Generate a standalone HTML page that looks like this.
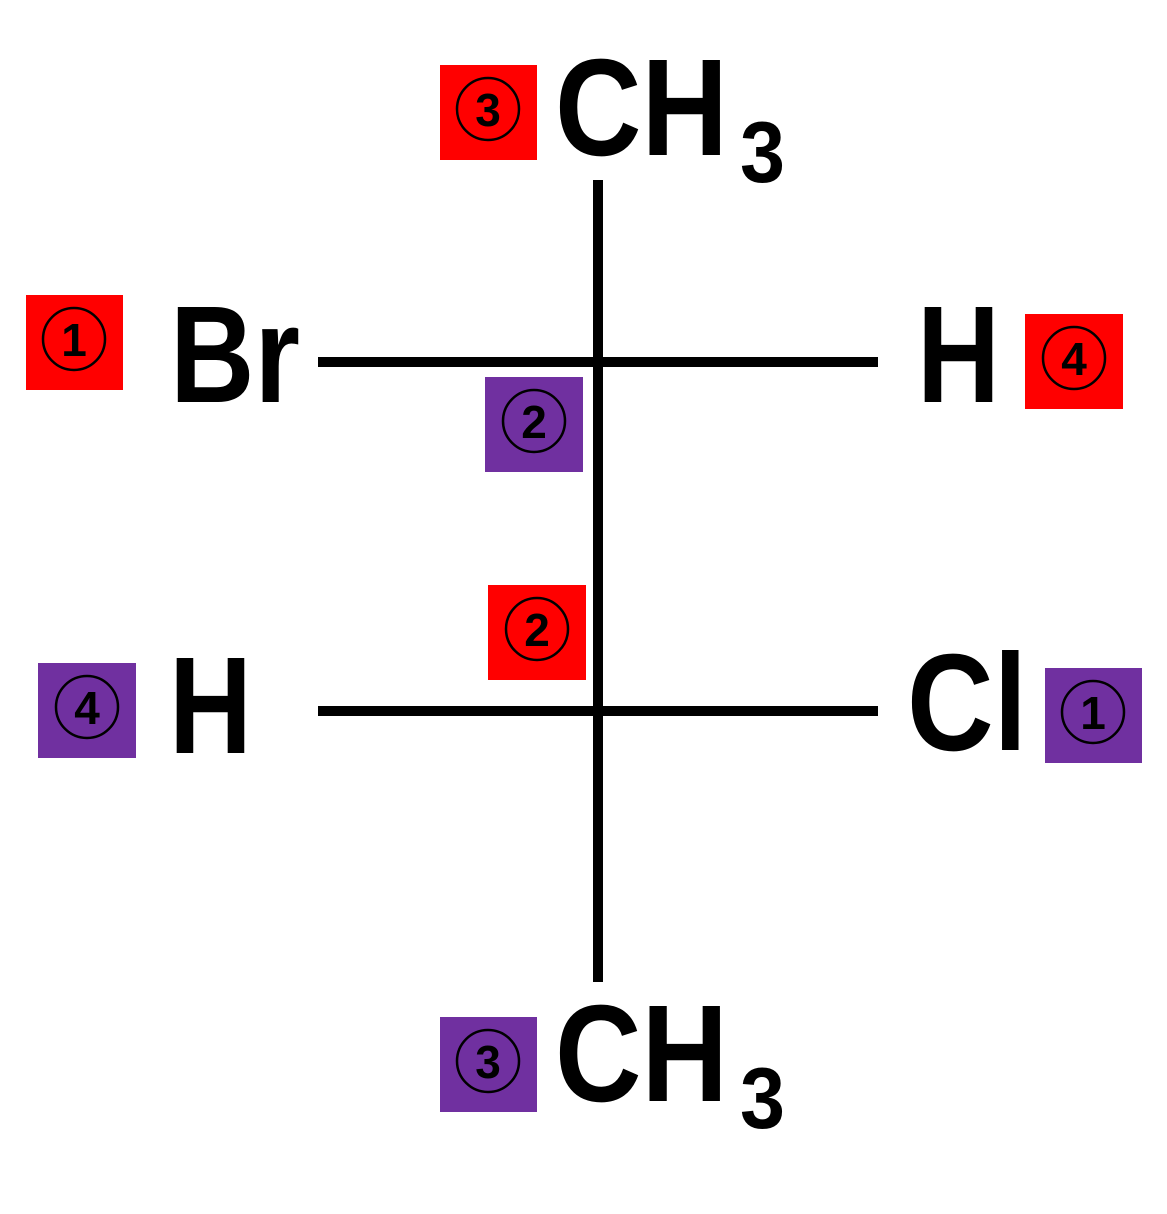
<!DOCTYPE html>
<html><head><style>html,body{margin:0;padding:0;background:#fff}</style></head>
<body>
<svg width="1167" height="1209" xmlns="http://www.w3.org/2000/svg" font-family="Liberation Sans, sans-serif" font-weight="bold">
<g stroke="#000" stroke-width="10">
<line x1="598" y1="180" x2="598" y2="982"/>
<line x1="318" y1="362" x2="878" y2="362"/>
<line x1="318" y1="711" x2="878" y2="711"/>
</g>
<g font-size="138">
<text x="555" y="155" textLength="173" lengthAdjust="spacingAndGlyphs">CH</text>
<text x="555" y="1101" textLength="173" lengthAdjust="spacingAndGlyphs">CH</text>
<text x="170" y="402" textLength="130" lengthAdjust="spacingAndGlyphs">Br</text>
<text x="917" y="402" textLength="83" lengthAdjust="spacingAndGlyphs">H</text>
<text x="169" y="753" textLength="83" lengthAdjust="spacingAndGlyphs">H</text>
<text x="907" y="750" textLength="120" lengthAdjust="spacingAndGlyphs">Cl</text>
</g>
<g font-size="86">
<text x="740" y="182" textLength="45" lengthAdjust="spacingAndGlyphs">3</text>
<text x="740" y="1128" textLength="45" lengthAdjust="spacingAndGlyphs">3</text>
</g>
<g font-size="46" text-anchor="middle">
<rect x="440" y="65" width="97" height="95" fill="#ff0000"/>
<circle cx="488" cy="109" r="31" fill="none" stroke="#000" stroke-width="2.5"/><text x="488" y="126">3</text>
<rect x="26" y="295" width="97" height="95" fill="#ff0000"/>
<circle cx="74" cy="339" r="31" fill="none" stroke="#000" stroke-width="2.5"/><text x="74" y="356">1</text>
<rect x="485" y="377" width="98" height="95" fill="#7030a0"/>
<circle cx="534" cy="421" r="31" fill="none" stroke="#000" stroke-width="2.5"/><text x="534" y="438">2</text>
<rect x="1025" y="314" width="98" height="95" fill="#ff0000"/>
<circle cx="1074" cy="358" r="31" fill="none" stroke="#000" stroke-width="2.5"/><text x="1074" y="375">4</text>
<rect x="488" y="585" width="98" height="95" fill="#ff0000"/>
<circle cx="537" cy="629" r="31" fill="none" stroke="#000" stroke-width="2.5"/><text x="537" y="646">2</text>
<rect x="38" y="663" width="98" height="95" fill="#7030a0"/>
<circle cx="87" cy="707" r="31" fill="none" stroke="#000" stroke-width="2.5"/><text x="87" y="724">4</text>
<rect x="1045" y="668" width="97" height="95" fill="#7030a0"/>
<circle cx="1093" cy="712" r="31" fill="none" stroke="#000" stroke-width="2.5"/><text x="1093" y="729">1</text>
<rect x="440" y="1017" width="97" height="95" fill="#7030a0"/>
<circle cx="488" cy="1061" r="31" fill="none" stroke="#000" stroke-width="2.5"/><text x="488" y="1078">3</text>
</g>
</svg>
</body></html>
